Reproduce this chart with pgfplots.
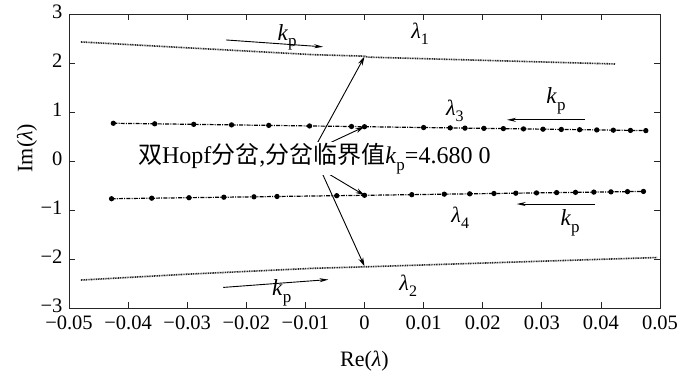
\documentclass[border=0pt]{standalone}
\usepackage{pgfplots}
\pgfplotsset{compat=1.18}
\usetikzlibrary{arrows.meta}
\usepackage{fontspec}
\setmainfont{Liberation Serif}
\newfontfamily\cjk{Noto Sans CJK SC}
\newcommand\kp{\textit{k}\raisebox{-0.6ex}{\fontsize{17}{17}\selectfont p}}
\newcommand\lam[1]{\textit{λ}\raisebox{-0.6ex}{\fontsize{16}{16}\selectfont #1}}
\begin{document}
\begin{tikzpicture}
\useasboundingbox (0,0) rectangle (700pt,377pt);
\begin{axis}[
  at={(69pt,69pt)}, anchor=south west,
  scale only axis, width=591pt, height=294pt,
  xmin=-0.05, xmax=0.05, ymin=-3, ymax=3,
  scaled x ticks=false, scaled y ticks=false,
  xtick={-0.05,-0.04,-0.03,-0.02,-0.01,0,0.01,0.02,0.03,0.04,0.05},
  xticklabels={−0.05,−0.04,−0.03,−0.02,−0.01,0,0.01,0.02,0.03,0.04,0.05},
  ytick={-3,-2,-1,0,1,2,3},
  yticklabels={−3,−2,−1,0,1,2,3},
  tick align=inside, major tick length=6pt,
  axis line style={black!85, line width=0.9pt},
  tick style={black!85, line width=0.8pt},
  tick label style={font=\fontsize{20.5}{22}\selectfont},
  xticklabel style={yshift=-8pt, inner ysep=0pt},
  yticklabel style={xshift=-3pt, yshift=2pt, inner ysep=0pt},
  xlabel={Re(\textit{λ})},
  ylabel={Im(\textit{λ})},
  label style={font=\fontsize{22}{24}\selectfont},
  xlabel style={at={(axis description cs:0.5,-0.18)}, anchor=center},
  ylabel style={at={(axis description cs:-0.071,0.544)}, anchor=center},
  clip=false,
]
% lambda_1
\addplot[black!85, line width=1.6pt, dash pattern=on 1pt off 0.7pt] coordinates {
(-0.048,2.43) (-0.03,2.31) (-0.0087,2.17) (0,2.14) (0.0005,2.12) (0.0424,1.98)};
% lambda_2
\addplot[black!85, line width=1.6pt, dash pattern=on 1pt off 0.7pt] coordinates {
(-0.048,-2.43) (-0.03,-2.31) (-0.0087,-2.19) (0,-2.16) (0.0495,-1.97)};
% lambda_3
\addplot[black, line width=1.2pt, dash pattern=on 4pt off 1.2pt on 1pt off 1.2pt,
  mark=*, mark size=2pt, mark options={solid}] coordinates {
(-0.0425,0.770) (-0.0355,0.759) (-0.0289,0.748) (-0.0225,0.737) (-0.0162,0.727)
(-0.0093,0.715) (-0.0022,0.704) (0,0.700) (0.0100,0.683) (0.0145,0.676)
(0.0170,0.671) (0.0202,0.666) (0.0235,0.661) (0.0269,0.655) (0.0302,0.649)
(0.0333,0.644) (0.0364,0.639) (0.0393,0.634) (0.0421,0.629) (0.0450,0.624)
(0.0476,0.620)};
% lambda_4
\addplot[black, line width=1.2pt, dash pattern=on 4pt off 1.2pt on 1pt off 1.2pt,
  mark=*, mark size=2pt, mark options={solid}] coordinates {
(-0.0428,-0.770) (-0.0360,-0.759) (-0.0297,-0.749) (-0.0238,-0.739) (-0.0187,-0.731)
(-0.0148,-0.724) (-0.0047,-0.708) (0,-0.700) (0.0080,-0.687) (0.0135,-0.677)
(0.0178,-0.670) (0.0219,-0.663) (0.0256,-0.657) (0.0291,-0.651) (0.0325,-0.645)
(0.0357,-0.640) (0.0388,-0.635) (0.0417,-0.630) (0.0445,-0.625) (0.0472,-0.621)};

% annotation arrows
\draw[-{Stealth[length=9pt,width=5pt]}, line width=0.9pt] (axis cs:-0.0087,0.21) -- (axis cs:0,2.13);
\draw[-{Stealth[length=9pt,width=5pt]}, line width=0.9pt] (axis cs:-0.0087,0.21) -- (axis cs:0,0.70);
\draw[-{Stealth[length=9pt,width=5pt]}, line width=0.9pt] (axis cs:-0.0075,-0.16) -- (axis cs:0,-0.70);
\draw[-{Stealth[length=9pt,width=5pt]}, line width=0.9pt] (axis cs:-0.0075,-0.16) -- (axis cs:0,-2.15);
\node[anchor=west, fill=white, inner sep=1pt, font=\fontsize{24}{26}\selectfont] at (axis cs:-0.0385,0.05)
  {{\cjk 双}Hopf{\cjk 分岔},{\cjk 分岔临界值}\kp=4.680 0};

% k_p arrows
\draw[-{Stealth[length=9pt,width=4pt]}, line width=0.9pt] (axis cs:-0.0234,2.47) -- (axis cs:-0.0070,2.33);
\node[font=\fontsize{23}{25}\selectfont] at (axis cs:-0.0131,2.53) {\kp};
\draw[-{Stealth[length=9pt,width=4pt]}, line width=0.9pt] (axis cs:0.0373,0.84) -- (axis cs:0.0241,0.84);
\node[font=\fontsize{23}{25}\selectfont] at (axis cs:0.0324,1.23) {\kp};
\draw[-{Stealth[length=9pt,width=4pt]}, line width=0.9pt] (axis cs:0.0390,-0.878) -- (axis cs:0.02575,-0.878);
\node[font=\fontsize{23}{25}\selectfont] at (axis cs:0.0348,-1.26) {\kp};
\draw[-{Stealth[length=9pt,width=4pt]}, line width=0.9pt] (axis cs:-0.0239,-2.58) -- (axis cs:-0.0061,-2.42);
\node[font=\fontsize{23}{25}\selectfont] at (axis cs:-0.0140,-2.69) {\kp};

% lambda labels
\node[font=\fontsize{22}{24}\selectfont] at (axis cs:0.0094,2.60) {\lam{1}};
\node[font=\fontsize{22}{24}\selectfont] at (axis cs:0.0153,1.03) {\lam{3}};
\node[font=\fontsize{22}{24}\selectfont] at (axis cs:0.0162,-1.16) {\lam{4}};
\node[font=\fontsize{22}{24}\selectfont] at (axis cs:0.0074,-2.54) {\lam{2}};
\end{axis}
\end{tikzpicture}
\end{document}
